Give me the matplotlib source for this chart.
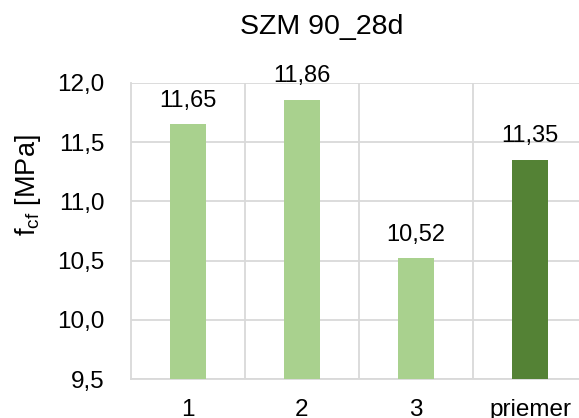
import matplotlib
matplotlib.use("Agg")
import matplotlib.pyplot as plt
from matplotlib.ticker import FixedLocator, FuncFormatter

plt.rcParams['font.family'] = ['Liberation Sans', 'DejaVu Sans']
plt.rcParams['mathtext.fontset'] = 'custom'
plt.rcParams['mathtext.rm'] = 'Liberation Sans'

categories = ['1', '2', '3', 'priemer']
values = [11.65, 11.86, 10.52, 11.35]
colors = ['#A9D18E', '#A9D18E', '#A9D18E', '#548235']
yticks = [9.5, 10.0, 10.5, 11.0, 11.5, 12.0]
title = 'SZM 90_28d'
ylabel = r'f$_{\mathregular{cf}}$ [MPa]'

grid_color = '#D9D9D9'

fig = plt.figure(figsize=(5.79, 4.18), dpi=100)
ax = fig.add_axes([131 / 579, 1 - 379 / 418, 456 / 579, 296 / 418])

x = list(range(len(categories)))
ax.bar(x, values, width=0.31, color=colors, zorder=3)

ax.set_xlim(-0.5, len(categories) - 0.5)
ax.set_ylim(yticks[0], yticks[-1])

ax.set_yticks(yticks)
ax.yaxis.set_major_formatter(FuncFormatter(lambda v, p: f'{v:.1f}'.replace('.', ',')))
ax.set_xticks(x)
ax.set_xticklabels(categories)
ax.xaxis.set_minor_locator(FixedLocator([i + 0.5 for i in x]))

ax.grid(axis='y', which='major', color=grid_color, linewidth=1.3, zorder=0)
ax.grid(axis='x', which='minor', color=grid_color, linewidth=1.3, zorder=0)
ax.grid(axis='x', which='major', visible=False)

ax.tick_params(axis='both', which='both', length=0, labelsize=17.5)
ax.tick_params(axis='x', pad=14.5)
ax.tick_params(axis='y', pad=19)

for side in ['top', 'right']:
    ax.spines[side].set_visible(False)
for side in ['left', 'bottom']:
    ax.spines[side].set_color(grid_color)
    ax.spines[side].set_linewidth(1.3)

for xi, v in zip(x, values):
    ax.annotate(f'{v:.2f}'.replace('.', ','), (xi, v), xytext=(0, 9),
                textcoords='offset points', ha='center', va='bottom',
                fontsize=17, color='#000000', annotation_clip=False)

fig.text(322 / 579, 1 - 27 / 418, title, ha='center', va='center', fontsize=20.5)
fig.text(28 / 579, 1 - 185 / 418, ylabel, ha='center', va='center',
         rotation=90, fontsize=19.5)

fig.savefig('out.png', dpi=100)
